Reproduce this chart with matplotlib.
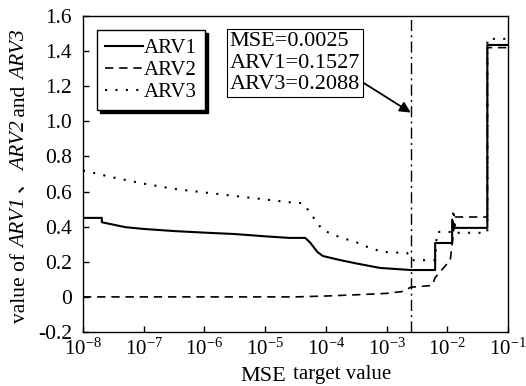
import numpy as np
import matplotlib
matplotlib.use("Agg")
import matplotlib.pyplot as plt
from matplotlib.ticker import FixedLocator, FuncFormatter, LogFormatterMathtext, NullLocator

plt.rcParams['font.family'] = ['Liberation Serif', 'DejaVu Serif']
plt.rcParams['mathtext.fontset'] = 'custom'
plt.rcParams['mathtext.rm'] = 'Liberation Serif'
plt.rcParams['mathtext.it'] = 'Liberation Serif:italic'

# ---- data (log10 of MSE target value, and ARV values) ----
arv1_logx = [-8.0, -7.69, -7.69, -7.55, -7.30, -7.0, -6.5, -6.0, -5.5, -5.0, -4.6, -4.34, -4.26,
             -4.14, -4.05, -3.77, -3.49, -3.11, -2.60, -2.20, -2.20, -1.92, -1.92, -1.88, -1.34, -1.34, -1.0]
arv1 = [0.45, 0.45, 0.425, 0.415, 0.397, 0.387, 0.375, 0.366, 0.358, 0.345, 0.336, 0.336, 0.31,
        0.256, 0.233, 0.21, 0.19, 0.165, 0.153, 0.153, 0.307, 0.307, 0.44, 0.393, 0.393, 1.435, 1.435]

arv2_logx = [-8.0, -4.5, -4.0, -3.5, -3.0, -2.75, -2.60, -2.25, -2.20, -1.95, -1.87, -1.34, -1.34, -1.0]
arv2 = [0.0, 0.0, 0.005, 0.012, 0.02, 0.03, 0.055, 0.065, 0.11, 0.21, 0.455, 0.455, 1.42, 1.42]

arv3_logx = [-8.0, -7.5, -7.0, -6.5, -6.0, -5.5, -5.0, -4.5, -4.39, -4.29, -4.14, -4.05, -3.77,
             -3.49, -3.32, -3.07, -2.66, -2.60, -2.20, -2.17, -1.92, -1.90, -1.86, -1.34, -1.34, -1.0]
arv3 = [0.72, 0.68, 0.645, 0.615, 0.595, 0.575, 0.555, 0.535, 0.535, 0.495, 0.42, 0.38, 0.34,
        0.31, 0.285, 0.256, 0.25, 0.209, 0.209, 0.37, 0.37, 0.50, 0.365, 0.365, 1.47, 1.47]

series_labels = ["ARV1", "ARV2", "ARV3"]
mse_mark = 0.0025
annot_lines = ["MSE=0.0025", "ARV1=0.1527", "ARV3=0.2088"]
yticks = [-0.2, 0, 0.2, 0.4, 0.6, 0.8, 1.0, 1.2, 1.4, 1.6]
xticks = [1e-8, 1e-7, 1e-6, 1e-5, 1e-4, 1e-3, 1e-2, 1e-1]

fig = plt.figure(figsize=(5.26, 3.86), dpi=100)
ax = fig.add_axes([83/526, 1-332/386, 425/526, 316/386])

ax.plot(10.0**np.array(arv1_logx), arv1, color='k', lw=1.5, ls='-', label=series_labels[0])
ax.plot(10.0**np.array(arv2_logx), arv2, color='k', lw=1.2, ls=(0, (5, 3.5)), label=series_labels[1])
ax.plot(10.0**np.array(arv3_logx), arv3, color='k', lw=1.5, ls=(0, (1, 4)), label=series_labels[2])
ax.axvline(mse_mark, color='k', lw=1.0, ls=(0, (8, 3, 1.5, 3)))

ax.set_xscale('log')
ax.set_xlim(1e-8, 1e-1)
ax.set_ylim(-0.2, 1.6)
ax.xaxis.set_major_locator(FixedLocator(xticks))
ax.xaxis.set_minor_locator(NullLocator())
ax.xaxis.set_major_formatter(LogFormatterMathtext())
ax.yaxis.set_major_locator(FixedLocator(yticks))
ax.yaxis.set_major_formatter(FuncFormatter(lambda v, p: "0" if abs(v) < 1e-9 else f"{v:.1f}"))
ax.tick_params(direction='in', length=4, width=1, top=False, right=False)
ax.tick_params(axis='y', labelsize=15.5, pad=8)
ax.tick_params(axis='x', labelsize=15, pad=5)
for s in ax.spines.values():
    s.set_linewidth(1.0)

leg = ax.legend(loc='upper left', bbox_to_anchor=(0.033, 0.956), borderaxespad=0,
                fancybox=False, edgecolor='k', framealpha=1, fontsize=15,
                handlelength=1.8, handletextpad=0.05, labelspacing=0.12,
                borderpad=0.4, shadow={'color': 'k', 'alpha': 1})
leg.get_frame().set_linewidth(1.0)

ax.annotate("\n".join(annot_lines), xy=(mse_mark, 1.05), xycoords='data',
            xytext=(2.6e-6, 1.51), textcoords='data', ha='left', va='top',
            fontsize=16, linespacing=1.2,
            bbox=dict(boxstyle='square,pad=0.12', fc='white', ec='k', lw=0.8),
            arrowprops=dict(arrowstyle='-|>', color='k', lw=1.3, relpos=(1.0, 0.22),
                            shrinkA=0, shrinkB=0, mutation_scale=16))

# x label
fig.text(240/526, 1-381/386, "MSE", fontsize=16, ha='left', va='baseline')
fig.text(293/526, 1-379/386, "target value", fontsize=15, ha='left', va='baseline')

# y label built from pieces (mixed upright / italic / CJK)
pieces = [("value of ", 'normal', ['Liberation Serif']),
          ("ARV1", 'italic', ['Liberation Serif']),
          (" 、", 'normal', ['Noto Sans CJK SC']),
          ("ARV2", 'italic', ['Liberation Serif']),
          (" and ", 'normal', ['Liberation Serif']),
          ("ARV3", 'italic', ['Liberation Serif'])]
xb = 25/526
prev = fig.text(xb, 1-323/386, pieces[0][0], rotation=90, rotation_mode='anchor',
                ha='left', va='baseline', fontsize=15.5, family=pieces[0][2], style=pieces[0][1])
for txt, st, fam in pieces[1:]:
    prev = ax.annotate(
        txt, xy=(xb, 1.0), xycoords=('figure fraction', prev), rotation=90,
        rotation_mode='anchor', ha='left', va='baseline', fontsize=15.5,
        family=fam, style=st, annotation_clip=False)

fig.savefig("out.png", dpi=100)
